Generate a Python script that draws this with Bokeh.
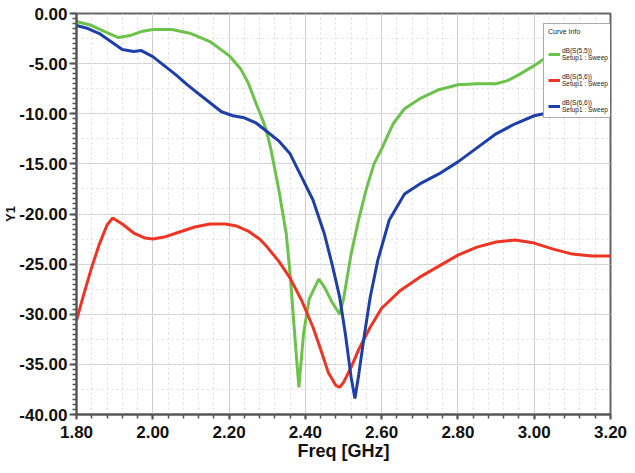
from bokeh.plotting import figure
from bokeh.models import (Legend, LegendItem, Range1d, SingleIntervalTicker,
                          Grid, NumeralTickFormatter)
from bokeh.embed import file_html
from bokeh.resources import INLINE

# ---- data ----
freq_s55 = [1.80, 1.84, 1.88, 1.91, 1.94, 1.97, 2.00, 2.05, 2.10, 2.15, 2.20, 2.23,
            2.25, 2.27, 2.29, 2.30, 2.31, 2.33, 2.35, 2.36, 2.37, 2.383, 2.395, 2.41,
            2.435, 2.45, 2.47, 2.49, 2.50, 2.52, 2.54, 2.56, 2.58, 2.60, 2.63, 2.66,
            2.70, 2.75, 2.80, 2.85, 2.90, 2.93, 2.96, 3.00, 3.05, 3.10, 3.15, 3.20]
db_s55 = [-0.8, -1.2, -1.9, -2.4, -2.2, -1.8, -1.6, -1.6, -2.0, -2.8, -4.2, -5.5,
          -6.9, -8.9, -10.8, -12.0, -13.6, -17.5, -22.0, -26.0, -31.0, -37.3, -32.0, -28.5,
          -26.5, -27.3, -28.8, -30.0, -28.5, -24.0, -20.5, -17.5, -15.0, -13.5, -11.0, -9.5,
          -8.5, -7.6, -7.1, -7.0, -7.0, -6.7, -6.1, -5.2, -3.9, -2.9, -2.2, -1.8]

freq_s56 = [1.80, 1.82, 1.84, 1.86, 1.88, 1.895, 1.92, 1.95, 1.98, 2.00, 2.03, 2.07,
            2.11, 2.15, 2.19, 2.22, 2.25, 2.28, 2.30, 2.33, 2.36, 2.39, 2.42, 2.44,
            2.46, 2.48, 2.49, 2.50, 2.52, 2.54, 2.57, 2.60, 2.65, 2.70, 2.75, 2.80,
            2.85, 2.90, 2.95, 3.00, 3.05, 3.10, 3.15, 3.20]
db_s56 = [-30.6, -27.9, -25.3, -23.0, -21.1, -20.4, -21.0, -21.9, -22.4, -22.5, -22.3, -21.8,
          -21.3, -21.0, -21.0, -21.2, -21.7, -22.5, -23.3, -24.7, -26.4, -28.6, -31.3, -33.5,
          -35.8, -37.1, -37.3, -36.8, -35.3, -33.5, -31.3, -29.4, -27.6, -26.3, -25.2, -24.1,
          -23.3, -22.8, -22.6, -22.9, -23.5, -24.0, -24.2, -24.2]

freq_s66 = [1.80, 1.83, 1.86, 1.89, 1.92, 1.95, 1.97, 2.00, 2.03, 2.06, 2.09, 2.12,
            2.15, 2.18, 2.21, 2.24, 2.27, 2.30, 2.33, 2.36, 2.39, 2.42, 2.45, 2.47,
            2.49, 2.505, 2.52, 2.53, 2.54, 2.555, 2.57, 2.59, 2.62, 2.66, 2.70, 2.75,
            2.80, 2.85, 2.90, 2.95, 3.00, 3.05, 3.10, 3.15, 3.20]
db_s66 = [-1.2, -1.5, -2.0, -2.8, -3.6, -3.8, -3.7, -4.3, -5.2, -6.1, -7.1, -8.0,
          -8.9, -9.8, -10.2, -10.4, -10.9, -11.8, -12.7, -14.0, -16.3, -18.6, -22.0, -25.0,
          -28.3, -32.0, -36.3, -38.4, -36.0, -32.0, -28.3, -24.6, -20.6, -18.0, -17.0, -16.0,
          -14.8, -13.4, -12.0, -11.0, -10.2, -9.8, -9.3, -8.9, -8.5]

series_labels = ["dB(S(5,5))\nSetup1 : Sweep", "dB(S(5,6))\nSetup1 : Sweep",
                 "dB(S(6,6))\nSetup1 : Sweep"]
series_colors = ["#6cc24a", "#ee3524", "#1f3fa8"]

FONT = "Liberation Sans, Arial, sans-serif"

p = figure(width=627, height=465, output_backend="svg", toolbar_location=None,
           x_range=Range1d(1.80, 3.20), y_range=Range1d(-40, 0),
           min_border_left=72, min_border_right=17, min_border_top=13,
           min_border_bottom=51, x_axis_label="Freq [GHz]", y_axis_label="Y1")
p.background_fill_color = "white"
p.outline_line_color = "#666666"
p.outline_line_width = 2

# axes
p.xaxis.ticker = SingleIntervalTicker(interval=0.2, num_minor_ticks=5)
p.yaxis.ticker = SingleIntervalTicker(interval=5, num_minor_ticks=10)
p.xaxis.formatter = NumeralTickFormatter(format="0.00")
p.yaxis.formatter = NumeralTickFormatter(format="0.00")
for ax in (p.xaxis[0], p.yaxis[0]):
    ax.axis_line_color = "#555555"
    ax.axis_line_width = 2
    ax.major_tick_line_color = "#555555"
    ax.minor_tick_line_color = "#555555"
    ax.major_tick_line_width = 2
    ax.minor_tick_line_width = 1.5
    ax.major_label_text_font = FONT
    ax.major_label_text_font_style = "bold"
    ax.major_label_text_color = "#111111"
    ax.axis_label_text_font = FONT
    ax.axis_label_text_font_style = "bold"
    ax.axis_label_text_color = "#111111"
p.xaxis.axis_label_text_font_size = "18px"
p.yaxis.axis_label_text_font_size = "13px"
p.xaxis.major_label_text_font_size = "17px"
p.yaxis.major_label_text_font_size = "17px"
p.xaxis.major_tick_in = 0
p.xaxis.major_tick_out = 5
p.xaxis.minor_tick_in = 0
p.xaxis.minor_tick_out = 4
p.yaxis.major_tick_in = 0
p.yaxis.major_tick_out = 7
p.yaxis.minor_tick_in = 0
p.yaxis.minor_tick_out = 4
p.xaxis.major_label_standoff = 6
p.yaxis.major_label_standoff = 2
p.xaxis.axis_label_standoff = 0
p.yaxis.axis_label_standoff = -2

# grids
p.xgrid.grid_line_color = "#cfcfcf"
p.ygrid.grid_line_color = "#cfcfcf"
p.xgrid.minor_grid_line_color = "#dcdcdc"
p.xgrid.minor_grid_line_dash = "2 3"
p.ygrid.minor_grid_line_color = None
yminor = Grid(dimension=1, ticker=SingleIntervalTicker(interval=2.5),
              grid_line_color="#e0e0e0", grid_line_dash="2 3")
p.add_layout(yminor)

r1 = p.line(freq_s55, db_s55, line_color=series_colors[0], line_width=3)
r2 = p.line(freq_s56, db_s56, line_color=series_colors[1], line_width=3)
r3 = p.line(freq_s66, db_s66, line_color=series_colors[2], line_width=3)

legend = Legend(items=[LegendItem(label=series_labels[0], renderers=[r1]),
                       LegendItem(label=series_labels[1], renderers=[r2]),
                       LegendItem(label=series_labels[2], renderers=[r3])],
                location=(467, 296), title="Curve Info",
                title_text_font=FONT, title_text_font_size="7px",
                title_text_font_style="normal", title_text_color="#222222",
                title_standoff=12,
                label_text_font=FONT, label_text_font_size="6.5px",
                label_text_color="#222222", label_standoff=2,
                glyph_width=12, glyph_height=10, spacing=12, padding=4, margin=0,
                border_line_color="#555555", border_line_width=1,
                background_fill_color="white", background_fill_alpha=1.0)
p.add_layout(legend)

open("out.html", "w").write(file_html(p, INLINE))
